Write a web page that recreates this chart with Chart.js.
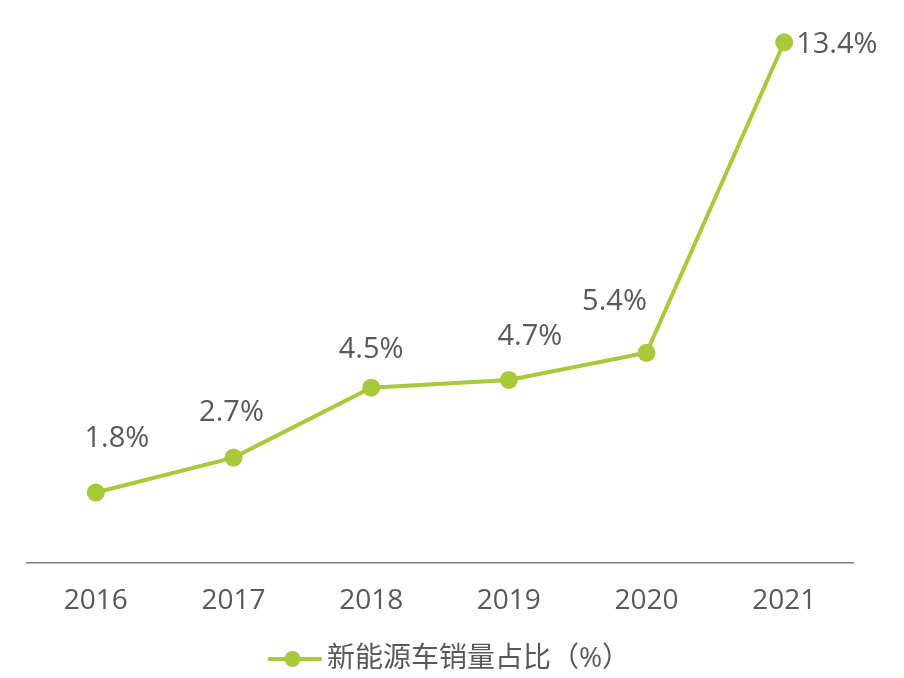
<!DOCTYPE html>
<html lang="zh">
  <head>
    <meta charset="UTF-8" />
    <title>新能源车销量占比</title>
    <script src="https://cdn.jsdelivr.net/npm/chart.js@4.4.1/dist/chart.umd.min.js"></script>
    <style>
      html, body { margin: 0; padding: 0; background: #fff; }
      #wrap { width: 904px; height: 678px; }
    </style>
  </head>
  <body>
    <div id="wrap"><canvas id="myChart" width="904" height="678"></canvas></div>
    <script>
      const years = ["2016", "2017", "2018", "2019", "2020", "2021"]
      const share = [1.8, 2.7, 4.5, 4.7, 5.4, 13.4]
      const seriesName = "新能源车销量占比（%）"

      // label nudges [dx, dy] relative to each point
      const labelShift = [[21, -54], [-2, -45], [0, -38], [21, -43], [-32, -51], [46, 2]]

      const green = "#a8c93a"
      const textColor = "#595959"
      const font = "'Open Sans', 'Noto Sans CJK SC', sans-serif"

      // legend marker: line with a dot in the middle, blank on the left
      const marker = document.createElement("canvas")
      marker.width = 82
      marker.height = 20
      const mctx = marker.getContext("2d")
      mctx.strokeStyle = green
      mctx.lineWidth = 4
      mctx.beginPath()
      mctx.moveTo(27.5, 10)
      mctx.lineTo(81.5, 10)
      mctx.stroke()
      mctx.fillStyle = green
      mctx.beginPath()
      mctx.arc(52, 10, 8, 0, Math.PI * 2)
      mctx.fill()

      const valueLabels = {
        id: "valueLabels",
        afterDatasetsDraw(chart) {
          const ctx = chart.ctx
          const meta = chart.getDatasetMeta(0)
          ctx.save()
          ctx.fillStyle = textColor
          ctx.font = "29px " + font
          ctx.textBaseline = "middle"
          meta.data.forEach((pt, i) => {
            const s = labelShift[i]
            const txt = share[i].toFixed(1) + "%"
            if (i === share.length - 1) {
              ctx.textAlign = "left"
              ctx.fillText(txt, pt.x + 12, pt.y + s[1])
            } else {
              ctx.textAlign = "center"
              ctx.fillText(txt, pt.x + s[0], pt.y + s[1])
            }
          })
          ctx.restore()
        },
      }

      const ctx = document.getElementById("myChart").getContext("2d")
      new Chart(ctx, {
        type: "line",
        data: {
          labels: years,
          datasets: [
            {
              label: seriesName,
              data: share,
              borderColor: green,
              backgroundColor: green,
              borderWidth: 4,
              pointRadius: 9,
              pointHoverRadius: 9,
              pointBackgroundColor: green,
              pointBorderWidth: 0,
              pointStyle: "circle",
              tension: 0,
            },
          ],
        },
        options: {
          responsive: false,
          animation: false,
          layout: { padding: { left: 27, right: 51, top: 19, bottom: -5 } },
          plugins: {
            tooltip: { enabled: false },
            legend: {
              position: "bottom",
              labels: {
                usePointStyle: true,
                pointStyleWidth: 63,
                color: textColor,
                font: { size: 28, family: font },
                padding: 13,
                generateLabels(chart) {
                  return [
                    {
                      text: seriesName,
                      pointStyle: marker,
                      fontColor: textColor,
                      datasetIndex: 0,
                    },
                  ]
                },
              },
            },
          },
          scales: {
            x: {
              offset: true,
              grid: { display: false },
              border: { display: true, color: "#808080", width: 1.5 },
              ticks: { color: textColor, font: { size: 28, family: font }, padding: 14 },
            },
            y: {
              display: false,
              min: 0,
              max: 14,
            },
          },
        },
        plugins: [valueLabels],
      })
    </script>
  </body>
</html>
